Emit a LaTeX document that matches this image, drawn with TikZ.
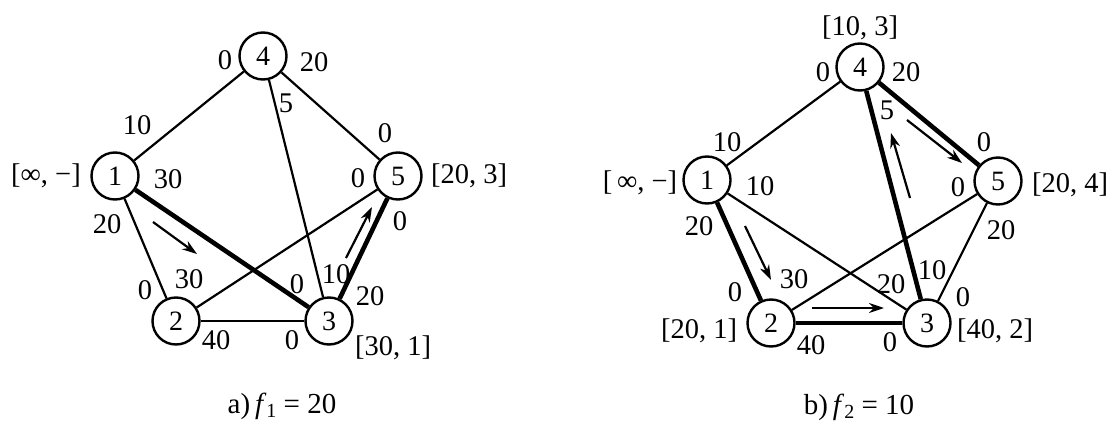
\documentclass[tikz,border=0pt]{standalone}
\usepackage{fontspec}
\setmainfont{Liberation Serif}
\usetikzlibrary{arrows.meta}
\tikzset{
 vtx/.style={circle,draw,line width=2.4pt,minimum size=47pt,inner sep=0pt,font=\fontsize{28}{32}\selectfont},
 lbl/.style={inner sep=0pt,font=\fontsize{28.5}{32}\selectfont},
 captxt/.style={inner sep=0pt,font=\fontsize{29}{33}\selectfont},
 tedge/.style={line width=2.2pt},
 bedge/.style={line width=4.6pt},
 flow/.style={line width=2.2pt,-{Stealth[length=15pt,width=10pt]}}
}
\begin{document}
\begin{tikzpicture}[x=1pt,y=-1pt]
\useasboundingbox (0,0) rectangle (1113,423);
% ---------- graph a ----------
\node[vtx] (a1) at (115,176) {1};
\node[vtx] (a2) at (176,321) {2};
\node[vtx] (a3) at (329,321) {3};
\node[vtx] (a4) at (263,56) {4};
\node[vtx] (a5) at (398,176) {5};
\draw[tedge] (a1) -- (a4);
\draw[tedge] (a4) -- (a5);
\draw[tedge] (a4) -- (a3);
\draw[tedge] (a1) -- (a2);
\draw[tedge] (a2) -- (a3);
\draw[tedge] (a2) -- (a5);
\draw[bedge] (a1) -- (a3);
\draw[bedge] (a3) -- (a5);
\coordinate (af1s) at (153,222); \coordinate (af1e) at (197,254);
\coordinate (af2s) at (346,258); \coordinate (af2e) at (372,207);
\draw[flow] (af1s) -- (af1e);
\draw[flow] (af2s) -- (af2e);
\node[lbl] (la1) at (46,176) {[∞, −]};
\node[lbl] (la2) at (137,125) {10};
\node[lbl] (la3) at (225,60) {0};
\node[lbl] (la4) at (314,62) {20};
\node[lbl] (la5) at (286,103) {5};
\node[lbl] (la6) at (385,133) {0};
\node[lbl] (la7) at (358,178) {0};
\node[lbl] (la8) at (168,179) {30};
\node[lbl] (la9) at (107,224) {20};
\node[lbl] (la10) at (145,290) {0};
\node[lbl] (la11) at (189,279) {30};
\node[lbl] (la12) at (297,284) {0};
\node[lbl] (la13) at (336,274) {10};
\node[lbl] (la14) at (370,296) {20};
\node[lbl] (la15) at (216,340) {40};
\node[lbl] (la16) at (292,340) {0};
\node[lbl] (la17) at (393,348) {[30, 1]};
\node[lbl] (la18) at (400,221) {0};
\node[lbl] (la19) at (469,176) {[20, 3]};
\node[captxt] (capa) at (282,406) {a)\,\textit{f}\raisebox{-0.35ex}{\fontsize{20}{24}\selectfont 1} = 20};
% ---------- graph b ----------
\node[vtx] (b1) at (707,180) {1};
\node[vtx] (b2) at (771,323) {2};
\node[vtx] (b3) at (927,323) {3};
\node[vtx] (b4) at (860,67) {4};
\node[vtx] (b5) at (998,181) {5};
\draw[tedge] (b1) -- (b4);
\draw[tedge] (b1) -- (b3);
\draw[tedge] (b2) -- (b5);
\draw[tedge] (b3) -- (b5);
\draw[bedge] (b1) -- (b2);
\draw[bedge] (b2) -- (b3);
\draw[bedge] (b3) -- (b4);
\draw[bedge] (b4) -- (b5);
\coordinate (bf1s) at (745,226); \coordinate (bf1e) at (771,280);
\coordinate (bf2s) at (812,308); \coordinate (bf2e) at (884,308);
\coordinate (bf3s) at (910,198); \coordinate (bf3e) at (891,133);
\coordinate (bf4s) at (907,120); \coordinate (bf4e) at (962,163);
\draw[flow] (bf1s) -- (bf1e);
\draw[flow] (bf2s) -- (bf2e);
\draw[flow] (bf3s) -- (bf3e);
\draw[flow] (bf4s) -- (bf4e);
\node[lbl] (lb1) at (860,28) {[10, 3]};
\node[lbl] (lb2) at (823,72) {0};
\node[lbl] (lb3) at (906,72) {20};
\node[lbl] (lb4) at (727,142) {10};
\node[lbl] (lb5) at (640,183) {[\,∞, −]};
\node[lbl] (lb6) at (760,186) {10};
\node[lbl] (lb7) at (887,110) {5};
\node[lbl] (lb8) at (984,142) {0};
\node[lbl] (lb9) at (958,187) {0};
\node[lbl] (lb10) at (1001,230) {20};
\node[lbl] (lb11) at (699,226) {20};
\node[lbl] (lb12) at (735,292) {0};
\node[lbl] (lb13) at (794,279) {30};
\node[lbl] (lb14) at (891,284) {20};
\node[lbl] (lb15) at (932,270) {10};
\node[lbl] (lb16) at (963,297) {0};
\node[lbl] (lb17) at (699,331) {[20, 1]};
\node[lbl] (lb18) at (811,345) {40};
\node[lbl] (lb19) at (890,342) {0};
\node[lbl] (lb20) at (995,331) {[40, 2]};
\node[lbl] (lb21) at (1070,185) {[20, 4]};
\node[captxt] (capb) at (859,407) {b)\,\textit{f}\raisebox{-0.35ex}{\fontsize{20}{24}\selectfont 2} = 10};
\end{tikzpicture}
\end{document}
